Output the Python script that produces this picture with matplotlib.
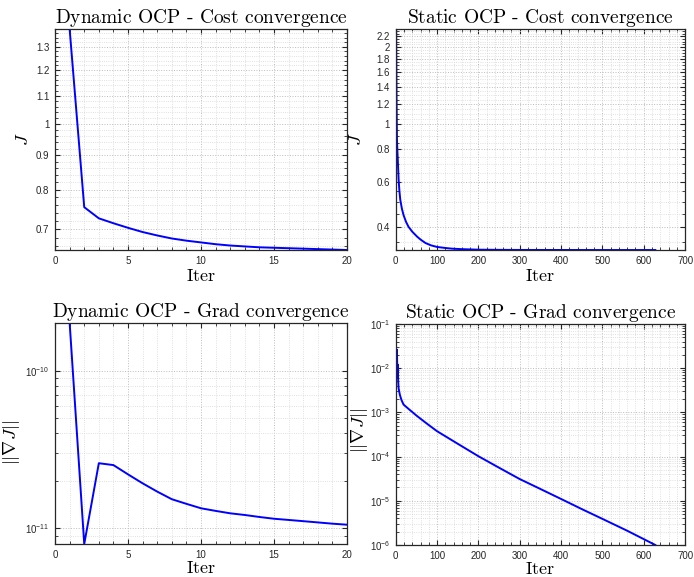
"""Cost and gradient convergence of the dynamic and static OCP solvers."""
import matplotlib

matplotlib.use("Agg")
import matplotlib.pyplot as plt
from matplotlib.ticker import FixedLocator, LogLocator, MultipleLocator, NullFormatter

plt.rcParams["font.family"] = ["Liberation Sans", "DejaVu Sans"]
plt.rcParams["mathtext.fontset"] = "cm"

# dynamic OCP, iterations 1..20
dyn_iter = list(range(1, 21))
dyn_cost = [1.38, 0.754, 0.726, 0.714, 0.703, 0.693, 0.685, 0.678, 0.673, 0.669,
            0.665, 0.662, 0.660, 0.658, 0.657, 0.656, 0.655, 0.654, 0.653, 0.652]
dyn_grad = [2.02e-10, 7.95e-12, 2.59e-11, 2.52e-11, 2.2e-11, 1.93e-11, 1.71e-11,
            1.53e-11, 1.43e-11, 1.34e-11, 1.29e-11, 1.245e-11, 1.215e-11, 1.18e-11,
            1.15e-11, 1.13e-11, 1.11e-11, 1.09e-11, 1.07e-11, 1.054e-11]

# static OCP, read at selected iterations
st_cost_iter = [1, 2, 3, 4, 5, 7, 9, 11, 15, 19, 25, 31, 40, 52, 60, 72, 85, 100,
                120, 136, 160, 200, 250, 300, 400, 500, 628]
st_cost = [2.35, 1.25, 0.88, 0.79, 0.73, 0.61, 0.55, 0.51, 0.47, 0.444, 0.418, 0.40,
           0.383, 0.366, 0.357, 0.346, 0.339, 0.334, 0.331, 0.329, 0.3275, 0.326,
           0.3255, 0.3252, 0.3251, 0.3250, 0.3250]
st_grad_iter = [1, 2, 3, 4, 5, 6, 7, 10, 14, 19, 31, 50, 75, 100, 150, 200, 250,
                300, 350, 400, 450, 500, 560, 628]
st_grad = [2.7e-2, 6e-3, 2.6e-2, 7e-3, 1.2e-2, 5e-3, 3.5e-3, 2.5e-3, 1.9e-3, 1.5e-3,
           1.2e-3, 8.5e-4, 5.6e-4, 3.75e-4, 1.95e-4, 1.02e-4, 5.6e-5, 3.1e-5, 1.85e-5,
           1.1e-5, 6.5e-6, 3.9e-6, 2.1e-6, 1e-6]

dyn_cost_ticks = [0.7, 0.8, 0.9, 1.0, 1.1, 1.2, 1.3]
dyn_cost_labels = ["0.7", "0.8", "0.9", "1", "1.1", "1.2", "1.3"]
st_cost_ticks = [0.4, 0.6, 0.8, 1.0, 1.2, 1.4, 1.6, 1.8, 2.0, 2.2]
st_cost_labels = ["0.4", "0.6", "0.8", "1", "1.2", "1.4", "1.6", "1.8", "2", "2.2"]

BLUE = "#0000ff"
LW = 1.4
TITLE_KW = dict(fontsize=14, pad=3)
LABEL_KW = dict(fontsize=13)


def style(ax):
    ax.tick_params(which="both", direction="in", top=True, right=True,
                   labelsize=7, colors="#262626", pad=4)
    ax.tick_params(which="major", length=3.5)
    ax.tick_params(which="minor", length=2)
    ax.grid(True, which="major", linestyle=":", color="#bcbcbc", linewidth=0.7)
    ax.grid(True, which="minor", linestyle=":", color="#d6d6d6", linewidth=0.6)
    for s in ax.spines.values():
        s.set_color("#262626")
        s.set_linewidth(0.9)


fig = plt.figure(figsize=(6.94, 5.77), dpi=100)
ax1 = fig.add_axes([0.0793, 0.5667, 0.4207, 0.383])
ax2 = fig.add_axes([0.5702, 0.5667, 0.4169, 0.383])
ax3 = fig.add_axes([0.0793, 0.0572, 0.4207, 0.3835])
ax4 = fig.add_axes([0.5702, 0.0555, 0.4169, 0.383])

# dynamic cost
ax1.plot(dyn_iter, dyn_cost, color=BLUE, linewidth=LW)
ax1.set_yscale("log")
ax1.set_xlim(0, 20)
ax1.set_ylim(min(dyn_cost), max(dyn_cost))
ax1.set_xticks([0, 5, 10, 15, 20])
ax1.xaxis.set_minor_locator(MultipleLocator(1))
ax1.set_yticks(dyn_cost_ticks, dyn_cost_labels)
ax1.yaxis.set_minor_locator(MultipleLocator(0.02))
ax1.yaxis.set_minor_formatter(NullFormatter())
ax1.set_title(r"$\text{Dynamic OCP - Cost convergence}$", **TITLE_KW)
ax1.set_xlabel(r"$\text{Iter}$", **LABEL_KW)
ax1.set_ylabel(r"$J$", **LABEL_KW)
ax1.yaxis.set_label_coords(-0.079, 0.5)

# static cost
ax2.plot(st_cost_iter, st_cost, color=BLUE, linewidth=LW)
ax2.set_yscale("log")
ax2.set_xlim(0, 700)
ax2.set_ylim(min(st_cost), max(st_cost))
ax2.set_xticks(range(0, 701, 100))
ax2.xaxis.set_minor_locator(MultipleLocator(20))
ax2.set_yticks(st_cost_ticks, st_cost_labels)
ax2.yaxis.set_minor_locator(MultipleLocator(0.05))
ax2.yaxis.set_minor_formatter(NullFormatter())
ax2.set_title(r"$\text{Static OCP - Cost convergence}$", **TITLE_KW)
ax2.set_xlabel(r"$\text{Iter}$", **LABEL_KW)
ax2.set_ylabel(r"$J$", **LABEL_KW)
ax2.yaxis.set_label_coords(-0.106, 0.5)

# dynamic gradient
ax3.plot(dyn_iter, dyn_grad, color=BLUE, linewidth=LW)
ax3.set_yscale("log")
ax3.set_xlim(0, 20)
ax3.set_ylim(min(dyn_grad), max(dyn_grad))
ax3.set_xticks([0, 5, 10, 15, 20])
ax3.xaxis.set_minor_locator(MultipleLocator(1))
ax3.yaxis.set_major_locator(FixedLocator([1e-11, 1e-10]))
ax3.yaxis.set_minor_locator(LogLocator(base=10, subs=range(2, 10)))
ax3.yaxis.set_minor_formatter(NullFormatter())
ax3.set_title(r"$\text{Dynamic OCP - Grad convergence}$", **TITLE_KW)
ax3.set_xlabel(r"$\text{Iter}$", **LABEL_KW)
ax3.set_ylabel(r"$||\nabla J||$", **LABEL_KW)
ax3.yaxis.set_label_coords(-0.113, 0.457)

# static gradient
ax4.plot(st_grad_iter, st_grad, color=BLUE, linewidth=LW)
ax4.set_yscale("log")
ax4.set_xlim(0, 700)
ax4.set_ylim(1e-6, 1e-1)
ax4.set_xticks(range(0, 701, 100))
ax4.xaxis.set_minor_locator(MultipleLocator(20))
ax4.yaxis.set_major_locator(LogLocator(base=10, numticks=10))
ax4.yaxis.set_minor_locator(LogLocator(base=10, subs=range(2, 10), numticks=10))
ax4.yaxis.set_minor_formatter(NullFormatter())
ax4.set_title(r"$\text{Static OCP - Grad convergence}$", **TITLE_KW)
ax4.set_xlabel(r"$\text{Iter}$", **LABEL_KW)
ax4.set_ylabel(r"$||\nabla J||$", **LABEL_KW)
ax4.yaxis.set_label_coords(-0.089, 0.52)

for ax in (ax1, ax2, ax3, ax4):
    style(ax)
for ax in (ax1, ax2):
    ax.xaxis.labelpad = 2
for ax in (ax3, ax4):
    ax.xaxis.labelpad = 0

fig.savefig("out.png", dpi=100)
